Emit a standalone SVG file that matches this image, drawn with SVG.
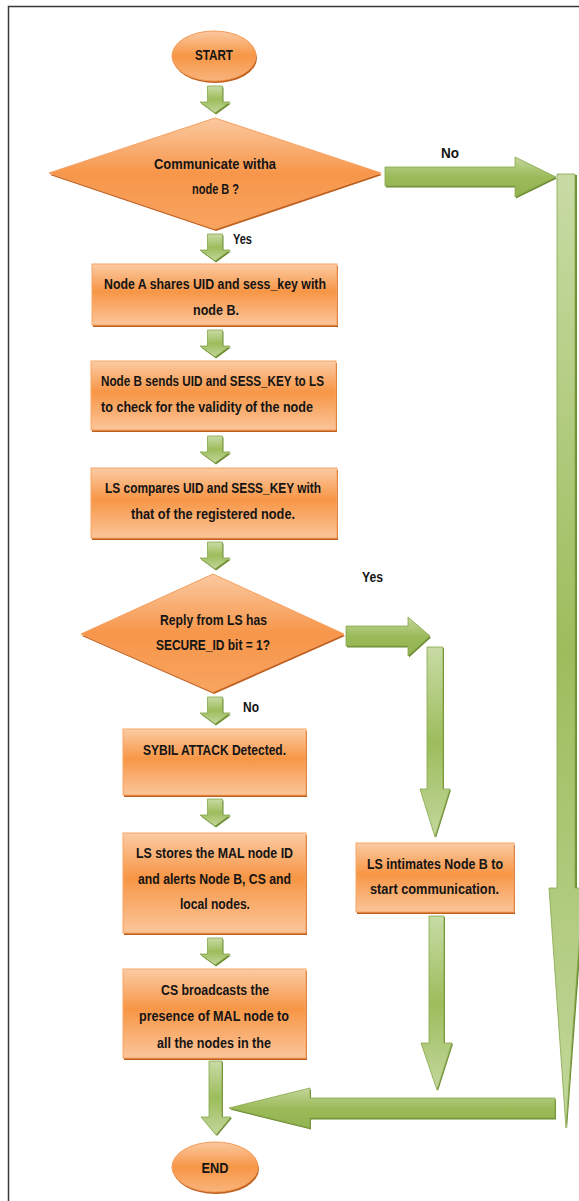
<svg xmlns="http://www.w3.org/2000/svg" width="579" height="1201" viewBox="0 0 579 1201">
<style>
  .t{font-family:"Liberation Sans Narrow","Liberation Sans",Arial,sans-serif;font-size:15px;font-weight:bold;fill:#141414;text-anchor:middle}
  .lbl{font-family:"Liberation Sans Narrow","Liberation Sans",Arial,sans-serif;font-size:14px;font-weight:bold;fill:#141414}
  .box{fill:url(#gBox);stroke:#f7a566;stroke-width:1}
  .shadow{fill:#c0601e}
  .dia{fill:url(#gDia);stroke:#f5a060;stroke-width:1}
  .ell{fill:url(#gEll);stroke:#f39a55;stroke-width:1}
  .arrV{fill:url(#gArrV);stroke:#86a64a;stroke-width:0.8}
  .arrH{fill:url(#gArrH);stroke:#86a64a;stroke-width:0.8}
  .ashadow{fill:#6f8c35}
</style>
<defs>
  <linearGradient id="gBox" x1="0" y1="0" x2="0" y2="1">
    <stop offset="0" stop-color="#fbcba4"/>
    <stop offset="0.45" stop-color="#f79646"/>
    <stop offset="1" stop-color="#fbc59a"/>
  </linearGradient>
  <linearGradient id="gDia" x1="0" y1="0" x2="0" y2="1">
    <stop offset="0" stop-color="#fbc9a0"/>
    <stop offset="0.5" stop-color="#f7964a"/>
    <stop offset="1" stop-color="#f8a460"/>
  </linearGradient>
  <linearGradient id="gEll" x1="0" y1="0" x2="0" y2="1">
    <stop offset="0" stop-color="#fbc8a0"/>
    <stop offset="0.5" stop-color="#f79646"/>
    <stop offset="1" stop-color="#f9b47c"/>
  </linearGradient>
  <linearGradient id="gArrV" x1="0" y1="0" x2="0" y2="1">
    <stop offset="0" stop-color="#c8dba5"/>
    <stop offset="0.5" stop-color="#9dbd5c"/>
    <stop offset="1" stop-color="#c2d79c"/>
  </linearGradient>
  <linearGradient id="gArrH" x1="0" y1="0" x2="0" y2="1">
    <stop offset="0" stop-color="#c3d69b"/>
    <stop offset="0.5" stop-color="#9bbb59"/>
    <stop offset="1" stop-color="#93b352"/>
  </linearGradient>
  <path id="smallArrow" d="M-7.5,0 H7.5 V16 H15 L0,27 L-15,16 H-7.5 Z"/>
</defs>

<rect width="579" height="1201" fill="#ffffff"/>
<path d="M8.5,1201 V6.5 H579" fill="none" stroke="#3a3a3a" stroke-width="1.5"/>

<g id="connectors">
  <g>
    <use href="#smallArrow" class="ashadow" transform="translate(216,87.5)"/>
    <use href="#smallArrow" class="arrV" transform="translate(215,86)"/>
    <use href="#smallArrow" class="ashadow" transform="translate(216,235.5)"/>
    <use href="#smallArrow" class="arrV" transform="translate(215,234)"/>
    <use href="#smallArrow" class="ashadow" transform="translate(216,331.5)"/>
    <use href="#smallArrow" class="arrV" transform="translate(215,330)"/>
    <use href="#smallArrow" class="ashadow" transform="translate(216,437.5)"/>
    <use href="#smallArrow" class="arrV" transform="translate(215,436)"/>
    <use href="#smallArrow" class="ashadow" transform="translate(216,543.5)"/>
    <use href="#smallArrow" class="arrV" transform="translate(215,542)"/>
    <use href="#smallArrow" class="ashadow" transform="translate(216,698.5)"/>
    <use href="#smallArrow" class="arrV" transform="translate(215,697)"/>
    <use href="#smallArrow" class="ashadow" transform="translate(216,800.5)"/>
    <use href="#smallArrow" class="arrV" transform="translate(215,799)"/>
    <use href="#smallArrow" class="ashadow" transform="translate(216,939.5)"/>
    <use href="#smallArrow" class="arrV" transform="translate(215,938)"/>
  </g>
  <path class="ashadow" d="M386,168.5 H516 V158.5 L557,178.5 L516,198.5 V187.5 H386 Z"/>
  <path class="arrH" d="M385,167 H515 V157 L556,177 L515,197 V186 H385 Z"/>
  <path class="ashadow" d="M558,175 H577 V889 H585 L567,1129 L550,889 H558 Z"/>
  <path class="arrV" d="M557,174 H575 V888 H583 L566,1128 L549,888 H557 Z"/>
  <path class="ashadow" d="M556,1099.5 H311 V1089.5 L230,1109.5 L311,1129.5 V1119.5 H556 Z"/>
  <path class="arrH" d="M555,1098 H310 V1088 L229,1108 L310,1128 V1118 H555 Z"/>
  <path class="ashadow" d="M347,627.5 H409 V618.5 L431,637.5 L409,657.5 V647.5 H347 Z"/>
  <path class="arrH" d="M346,626 H408 V617 L430,636 L408,656 V646 H346 Z"/>
  <path class="ashadow" d="M428,648 H444 V790 H451 L436,838 L421,790 H428 Z"/>
  <path class="arrV" d="M427,647 H443 V789 H450 L435,837 L420,789 H427 Z"/>
  <path class="ashadow" d="M430,917 H445 V1044 H453 L438,1091 L422,1044 H430 Z"/>
  <path class="arrV" d="M429,916 H444 V1043 H452 L437,1090 L421,1043 H429 Z"/>
  <path class="ashadow" d="M210,1062 H223 V1118 H232 L217,1136 L202,1118 H210 Z"/>
  <path class="arrV" d="M209,1061 H222 V1117 H231 L216,1135 L201,1117 H209 Z"/>
  <text class="lbl" x="441" y="158" textLength="18" lengthAdjust="spacingAndGlyphs">No</text>
  <text class="lbl" x="233" y="244" textLength="19" lengthAdjust="spacingAndGlyphs">Yes</text>
  <text class="lbl" x="362" y="582" textLength="21" lengthAdjust="spacingAndGlyphs">Yes</text>
  <text class="lbl" x="243" y="712" textLength="16" lengthAdjust="spacingAndGlyphs">No</text>
</g>

<g id="start">
  <ellipse cx="215" cy="58" rx="42" ry="25" class="shadow"/>
  <ellipse cx="214" cy="56" rx="42" ry="25" class="ell"/>
  <text class="t" x="214" y="59.5" textLength="38" lengthAdjust="spacingAndGlyphs">START</text>
</g>

<g id="decision1">
  <polygon class="shadow" points="216,120 382,175 216,231 50,175"/>
  <polygon class="dia" points="215,118 381,173 215,229 49,173"/>
  <text class="t" x="215" y="168.5" textLength="122" lengthAdjust="spacingAndGlyphs">Communicate witha</text>
  <text class="t" x="215.5" y="193.5" textLength="47" lengthAdjust="spacingAndGlyphs">node B ?</text>
</g>

<g id="box1">
  <rect class="shadow" x="93" y="266" width="245" height="61"/>
  <rect class="box" x="92" y="264" width="245" height="61"/>
  <text class="t" x="215" y="288.5" textLength="222" lengthAdjust="spacingAndGlyphs">Node A shares UID and sess_key with</text>
  <text class="t" x="216" y="314.5" textLength="46" lengthAdjust="spacingAndGlyphs">node B.</text>
</g>

<g id="box2">
  <rect class="shadow" x="92" y="363" width="245" height="69"/>
  <rect class="box" x="91" y="361" width="245" height="69"/>
  <text class="t" x="212.5" y="385.5" textLength="223" lengthAdjust="spacingAndGlyphs">Node B sends UID and SESS_KEY to LS</text>
  <text class="t" x="207" y="411.5" textLength="212" lengthAdjust="spacingAndGlyphs">to check for the validity of the node</text>
</g>

<g id="box3">
  <rect class="shadow" x="92" y="470" width="246" height="70"/>
  <rect class="box" x="91" y="468" width="246" height="70"/>
  <text class="t" x="213" y="492.5" textLength="216" lengthAdjust="spacingAndGlyphs">LS compares UID and SESS_KEY with</text>
  <text class="t" x="213" y="518.5" textLength="164" lengthAdjust="spacingAndGlyphs">that of the registered node.</text>
</g>

<g id="decision2">
  <polygon class="shadow" points="214,576 345,636 214,694 82,636"/>
  <polygon class="dia" points="213,574 344,634 213,692 81,634"/>
  <text class="t" x="213.5" y="624.5" textLength="107" lengthAdjust="spacingAndGlyphs">Reply from LS has</text>
  <text class="t" x="213" y="649.5" textLength="114" lengthAdjust="spacingAndGlyphs">SECURE_ID bit = 1?</text>
</g>

<g id="sybil">
  <rect class="shadow" x="124" y="731" width="183" height="66"/>
  <rect class="box" x="123" y="729" width="183" height="66"/>
  <text class="t" x="214.5" y="754.5" textLength="143" lengthAdjust="spacingAndGlyphs">SYBIL ATTACK Detected.</text>
</g>

<g id="lsStores">
  <rect class="shadow" x="124" y="835" width="183" height="100"/>
  <rect class="box" x="123" y="833" width="183" height="100"/>
  <text class="t" x="214.5" y="857.5" textLength="157" lengthAdjust="spacingAndGlyphs">LS stores the MAL node ID</text>
  <text class="t" x="214.5" y="883.5" textLength="153" lengthAdjust="spacingAndGlyphs">and alerts Node B, CS and</text>
  <text class="t" x="215" y="908.5" textLength="70" lengthAdjust="spacingAndGlyphs">local nodes.</text>
</g>

<g id="lsIntimates">
  <rect class="shadow" x="357" y="845" width="158" height="69"/>
  <rect class="box" x="356" y="843" width="158" height="69"/>
  <text class="t" x="435" y="868.5" textLength="136" lengthAdjust="spacingAndGlyphs">LS intimates Node B to</text>
  <text class="t" x="434.5" y="893.5" textLength="129" lengthAdjust="spacingAndGlyphs">start communication.</text>
</g>

<g id="csBroadcasts">
  <rect class="shadow" x="124" y="971" width="183" height="89"/>
  <rect class="box" x="123" y="969" width="183" height="89"/>
  <text class="t" x="215" y="994.5" textLength="108" lengthAdjust="spacingAndGlyphs">CS broadcasts the</text>
  <text class="t" x="214" y="1020.5" textLength="150" lengthAdjust="spacingAndGlyphs">presence of MAL node to</text>
  <text class="t" x="214" y="1047.5" textLength="114" lengthAdjust="spacingAndGlyphs">all the nodes in the</text>
</g>

<g id="end">
  <ellipse cx="216" cy="1169" rx="43" ry="25" class="shadow"/>
  <ellipse cx="215" cy="1167" rx="43" ry="25" class="ell"/>
  <text class="t" x="215" y="1172.5" textLength="27" lengthAdjust="spacingAndGlyphs">END</text>
</g>
</svg>
